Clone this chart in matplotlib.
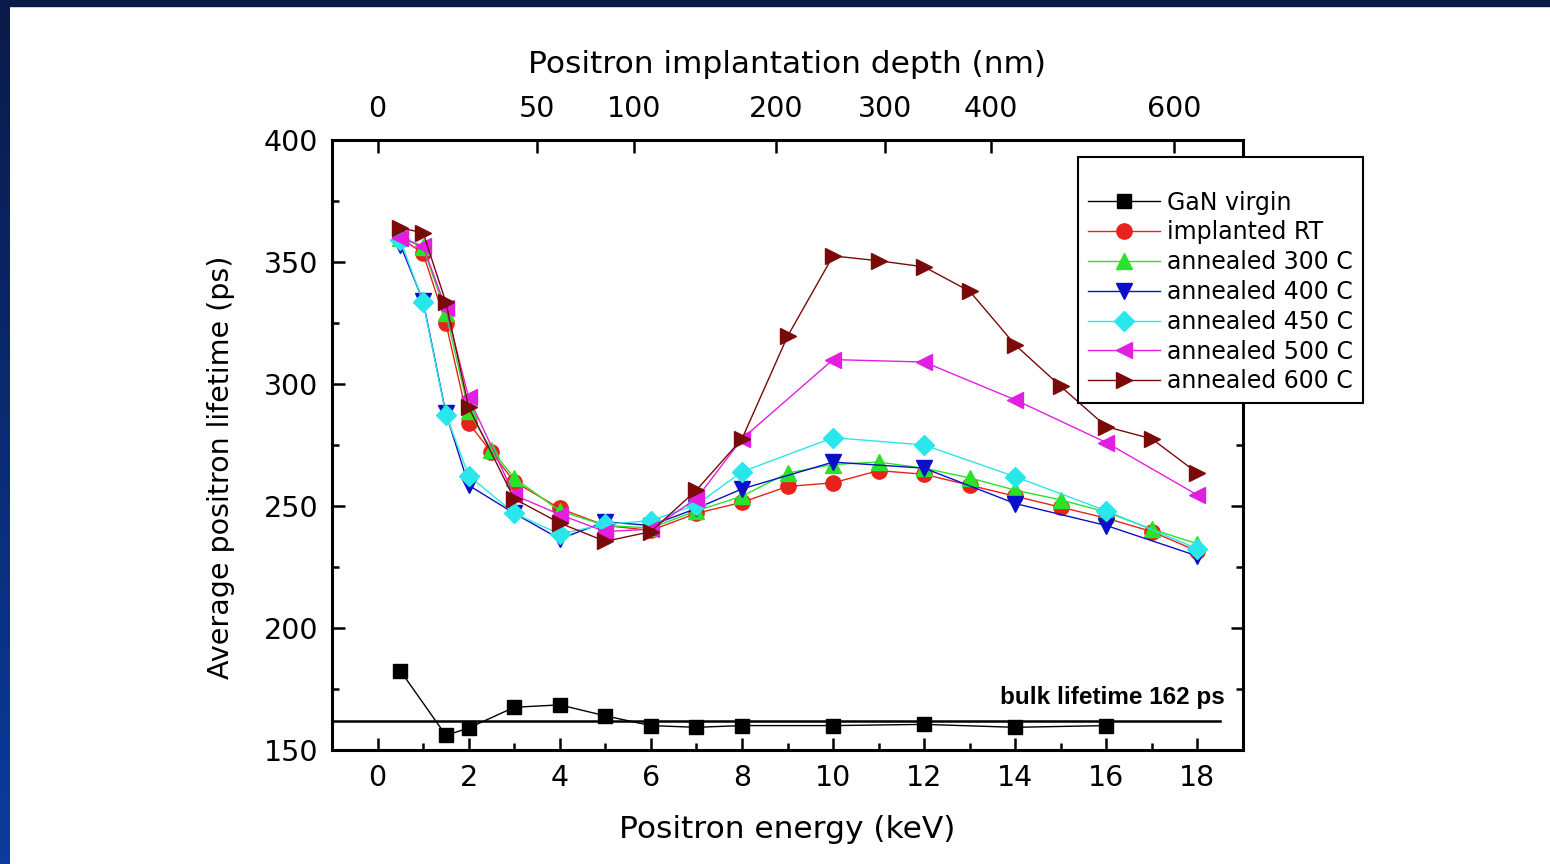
import numpy as np
import matplotlib
matplotlib.use("Agg")
import matplotlib.pyplot as plt

# positron energy (keV) / average lifetime (ps) per sample
e_virgin = [0.5, 1.5, 2, 3, 4, 5, 6, 7, 8, 10, 12, 14, 16]
tau_virgin = [182.5, 156, 159, 167.5, 168.5, 164, 160, 159.3, 160, 160, 160.5, 159.3, 160]

e_full = [0.5, 1, 1.5, 2, 2.5, 3, 4, 5, 6, 7, 8, 9, 10, 11, 12, 13, 14, 15, 16, 17, 18]
tau_rt = [360, 353.5, 325, 284, 272, 260, 249, 242, 240, 247, 251.5, 258, 259.5, 264.5,
          263, 258.5, 254, 249.5, 245, 239.5, 231.5]
tau_300 = [360, 356, 329, 289, 273, 261.5, 248, 242, 241, 248, 254, 263.5, 267, 268,
           265.5, 261.5, 256.5, 252.5, 247.5, 240.5, 234.5]

e_even = [0.5, 1, 1.5, 2, 3, 4, 5, 6, 7, 8, 10, 12, 14, 16, 18]
tau_400 = [357, 334, 288, 258.5, 247, 236.5, 243.5, 242, 249, 257, 268, 265.5, 251, 242, 229.5]
tau_450 = [359, 333.5, 287.5, 262.5, 247, 238.5, 242.5, 244, 250.5, 264, 278, 275, 262, 248, 232.5]
tau_500 = [360, 356.5, 331, 294.5, 254.5, 246.5, 239.5, 240.5, 253, 277.5, 310, 309, 293.5, 276, 254.5]

e_600 = [0.5, 1, 1.5, 2, 3, 4, 5, 6, 7, 8, 9, 10, 11, 12, 13, 14, 15, 16, 17, 18]
tau_600 = [364, 362, 333.5, 290.5, 253, 243, 235.5, 239.5, 256.5, 277.5, 319.5, 352.5,
           350.5, 348, 338, 316, 299, 282.5, 277.5, 263.5]

bulk_lifetime = 162

# top axis: implantation depth (nm) at energy (keV)
depth_labels = ["0", "50", "100", "200", "300", "400", "600"]
depth_energy = [0, 3.49, 5.64, 8.75, 11.14, 13.46, 17.48]

series = [
    (e_virgin, tau_virgin, "GaN virgin", "#000000", "s", 10),
    (e_full, tau_rt, "implanted RT", "#e8221c", "o", 11),
    (e_full, tau_300, "annealed 300 C", "#2ae22a", "^", 11.5),
    (e_even, tau_400, "annealed 400 C", "#0a10c8", "v", 11.5),
    (e_even, tau_450, "annealed 450 C", "#28e6ea", "D", 10),
    (e_even, tau_500, "annealed 500 C", "#e21fe0", "<", 11.5),
    (e_600, tau_600, "annealed 600 C", "#7a0a0a", ">", 11.5),
]

plt.rcParams["font.family"] = ["DejaVu Sans"]

fig = plt.figure(figsize=(15.5, 8.64), dpi=100)
fig.patch.set_facecolor("white")

# slide border (dark blue band on the top and left)
band = fig.add_axes([0, 0, 10 / 1550, 1])
grad = np.linspace(0, 1, 256).reshape(-1, 1)
cmap = matplotlib.colors.LinearSegmentedColormap.from_list("b", ["#0b3c9e", "#0a1a48"])
band.imshow(grad, aspect="auto", cmap=cmap, origin="lower", extent=[0, 1, 0, 1])
band.axis("off")
fig.patches.append(plt.Rectangle((0, 1 - 6 / 864), 1, 6 / 864, transform=fig.transFigure,
                                 color="#0a1a48", zorder=5))

ax = fig.add_axes([332 / 1550, 1 - 750 / 864, (1243 - 332) / 1550, (750 - 140) / 864])

handles = []
for x, y, label, color, marker, ms in series:
    h, = ax.plot(x, y, color=color, lw=1.0, marker=marker, ms=ms, mfc=color, mec=color,
                 label=label)
    handles.append(h)

ax.plot([-1, 18.5], [bulk_lifetime, bulk_lifetime], color="black", lw=1.8)
ax.text(18.6, 167, "bulk lifetime 162 ps", ha="right", va="bottom",
        fontsize=17.5, fontweight="bold", family=["Liberation Sans", "DejaVu Sans"])

ax.set_xlim(-1, 19)
ax.set_ylim(150, 400)
ax.set_xticks(range(0, 19, 2))
ax.set_xticks(range(1, 19, 2), minor=True)
ax.set_yticks(range(150, 401, 50))
ax.set_yticks(range(175, 400, 50), minor=True)
ax.tick_params(which="both", direction="in", width=1.8, labelsize=20.5, pad=10,
               top=False, right=True)
ax.tick_params(which="major", length=9)
ax.tick_params(which="minor", length=5)
for s in ax.spines.values():
    s.set_linewidth(2.2)

ax.set_xlabel("Positron energy (keV)", fontsize=22.5, labelpad=17)
ax.set_ylabel("Average positron lifetime (ps)", fontsize=20.5)
ax.yaxis.set_label_coords(-0.107, 0.464)

top = ax.twiny()
top.set_xlim(ax.get_xlim())
top.set_xticks(depth_energy)
top.set_xticklabels(depth_labels)
top.tick_params(direction="in", length=9, width=1.8, labelsize=20.5, pad=12)
top.set_xlabel("Positron implantation depth (nm)", fontsize=22.5, labelpad=16)

leg = fig.legend(handles=handles, loc="upper left", bbox_to_anchor=(1078 / 1550, 1 - 157 / 864),
                 bbox_transform=fig.transFigure, borderaxespad=0, fontsize=17, frameon=True,
                 fancybox=False, edgecolor="black", framealpha=1, handlelength=3.05,
                 handletextpad=0.3, labelspacing=0.245, borderpad=0.42,
                 title=" ", title_fontsize=13)
leg.get_frame().set_linewidth(1.5)
leg.set_zorder(10)

fig.savefig("out.png", dpi=100)
